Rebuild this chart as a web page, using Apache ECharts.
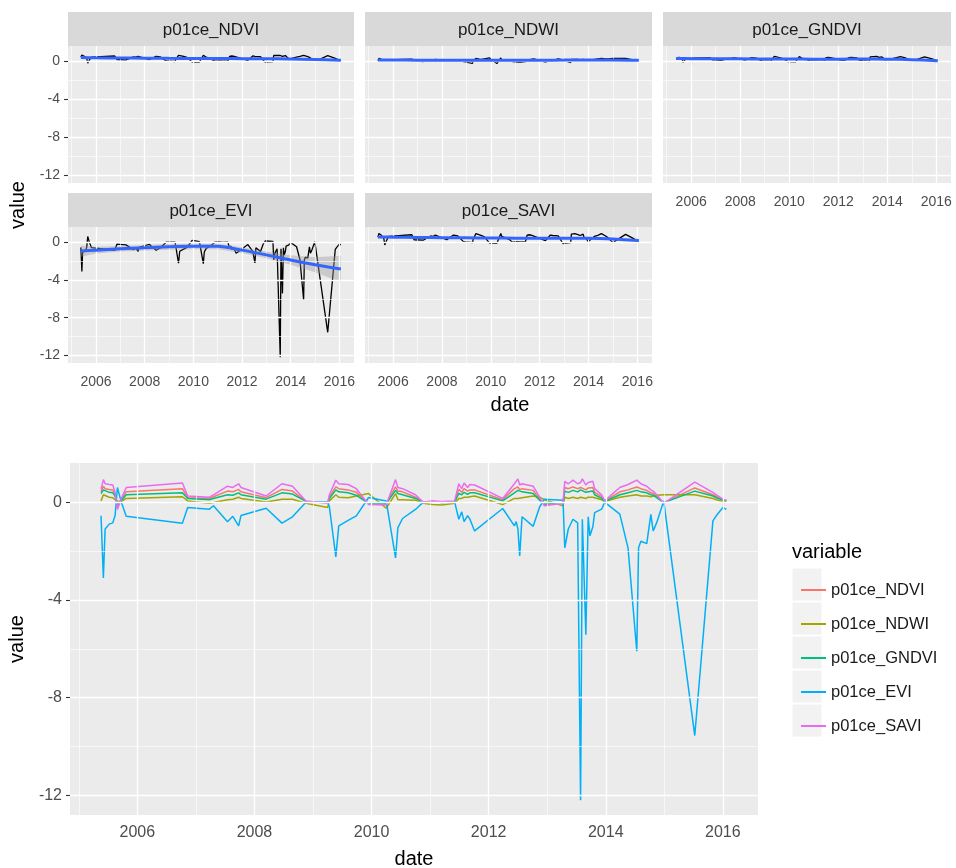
<!DOCTYPE html>
<html><head><meta charset="utf-8">
<script src="https://cdn.jsdelivr.net/npm/echarts@6/dist/echarts.min.js"></script>
<style>html,body{margin:0;padding:0;background:#fff}#c{width:956px;height:868px}</style>
</head><body><div id="c"></div>
<script>
// ---- data (decimal years) ----
const dates = [2005.38,2005.42,2005.45,2005.52,2005.58,2005.62,2005.66,2005.72,2005.81,2006.77,
2006.86,2007.23,2007.30,2007.54,2007.63,2007.73,2007.77,2008.20,2008.47,2008.65,
2008.88,2009.25,2009.28,2009.39,2009.44,2009.60,2009.74,2009.95,2010.25,2010.41,
2010.45,2010.53,2010.75,2010.88,2011.04,2011.20,2011.42,2011.49,2011.54,2011.58,
2011.64,2011.68,2011.76,2012.24,2012.44,2012.47,2012.50,2012.53,2012.57,2012.76,
2012.87,2012.95,2013.27,2013.30,2013.36,2013.44,2013.52,2013.57,2013.60,2013.66,
2013.70,2013.73,2013.78,2013.81,2013.93,2013.98,2014.24,2014.38,2014.53,2014.56,
2014.60,2014.70,2014.77,2014.81,2014.87,2014.99,2015.52,2015.55,2015.83,2015.89,
2016.00,2016.06];
const evi = [-0.56,-3.10,-1.10,-0.90,-0.85,-0.55,0.60,0.05,-0.58,-0.86,
-0.22,-0.29,-0.15,-0.80,-0.58,-0.97,-0.55,-0.25,-0.86,-0.60,
-0.01,0.00,-0.20,-2.24,-0.97,-0.75,-0.56,0.19,0.05,-2.28,
-1.04,-0.67,-0.30,-0.01,0.02,-0.02,0.00,-0.70,-0.40,-0.80,
-0.55,-0.70,-1.18,-0.26,-0.97,-0.80,-1.10,-2.20,-0.60,-0.99,
-0.20,0.12,0.08,-1.87,-1.10,-0.70,-0.85,-12.20,-0.70,-5.43,
-0.60,-1.38,-1.00,-0.43,-0.29,0.00,-0.49,-1.87,-6.10,-1.87,
-1.60,-1.70,-0.50,-1.18,-0.84,0.05,-9.55,-9.50,-0.77,-0.55,
-0.22,-0.30];
const savi = [0.53,0.92,0.75,0.72,0.70,0.40,-0.30,0.10,0.60,0.78,
0.25,0.20,0.30,0.65,0.60,0.75,0.60,0.25,0.75,0.65,
0.05,-0.05,0.30,0.90,0.75,0.72,0.55,-0.10,-0.12,0.92,
0.60,0.55,0.30,0.00,0.05,0.02,0.05,0.75,0.55,0.78,
0.60,0.72,0.70,0.15,0.75,0.80,0.95,0.70,0.75,0.65,
0.20,-0.15,-0.05,0.85,0.75,0.90,0.75,0.80,0.95,0.70,
0.80,0.72,0.85,0.55,0.30,0.05,0.60,0.72,0.90,0.85,
0.75,0.65,0.50,0.45,0.30,-0.05,0.82,0.80,0.40,0.30,
0.12,0.08];
const ndvi = [0.42,0.65,0.55,0.52,0.50,0.30,-0.20,0.08,0.42,0.55,
0.18,0.15,0.22,0.45,0.42,0.52,0.42,0.18,0.52,0.45,
0.03,-0.03,0.20,0.62,0.55,0.50,0.40,-0.08,-0.08,0.62,
0.45,0.42,0.20,0.00,0.03,0.00,0.03,0.52,0.40,0.55,
0.45,0.50,0.50,0.10,0.55,0.60,0.62,0.50,0.55,0.48,
0.12,-0.10,-0.03,0.60,0.55,0.62,0.55,0.60,0.65,0.50,
0.58,0.52,0.60,0.40,0.22,0.03,0.42,0.50,0.62,0.60,
0.55,0.48,0.38,0.35,0.22,-0.03,0.58,0.56,0.30,0.22,
0.10,0.06];
const gndvi = [0.35,0.50,0.45,0.40,0.38,0.25,-0.10,0.05,0.30,0.38,
0.15,0.10,0.15,0.30,0.28,0.38,0.30,0.12,0.38,0.33,
0.03,-0.02,0.15,0.50,0.42,0.38,0.28,-0.05,-0.06,0.48,
0.35,0.30,0.15,0.00,0.02,-0.02,0.02,0.35,0.30,0.40,
0.32,0.38,0.38,0.05,0.38,0.45,0.48,0.40,0.42,0.35,
0.08,-0.08,-0.03,0.45,0.40,0.48,0.42,0.50,0.50,0.40,
0.42,0.38,0.45,0.30,0.15,0.02,0.30,0.38,0.48,0.45,
0.42,0.38,0.30,0.28,0.18,-0.02,0.45,0.44,0.25,0.18,
0.08,0.05];
const ndwi = [0.05,0.30,0.25,0.20,0.18,0.10,0.05,0.02,0.15,0.22,
0.05,-0.05,-0.02,0.10,0.12,0.20,0.15,0.00,0.12,0.12,
-0.05,-0.22,0.05,0.30,0.20,0.18,0.25,0.35,-0.25,0.35,
0.10,0.10,0.08,-0.05,-0.10,-0.12,-0.05,0.15,0.15,0.20,
0.20,0.22,0.25,-0.10,0.15,0.20,0.15,0.10,0.18,0.25,
0.20,0.10,-0.15,0.20,0.15,0.20,0.15,0.20,0.25,0.15,
0.20,0.15,0.20,0.15,0.10,0.02,0.20,0.25,0.30,0.25,
0.25,0.25,0.22,0.25,0.28,0.30,0.30,0.28,0.15,0.10,
0.03,0.02];

// loess smooth fits with confidence band (read from facets)
const smoothX = [2005.38,2006,2007,2008,2009,2010,2011,2012,2013,2014,2015,2016.06];
const ndviFit = [0.38,0.36,0.34,0.32,0.30,0.29,0.28,0.27,0.26,0.24,0.18,0.10];
const ndviLo  = [0.28,0.30,0.29,0.27,0.25,0.24,0.23,0.22,0.21,0.18,0.11,0.00];
const ndviHi  = [0.48,0.42,0.39,0.37,0.35,0.34,0.33,0.32,0.31,0.30,0.25,0.20];
const ndwiFit = [0.12,0.12,0.11,0.10,0.10,0.10,0.10,0.11,0.12,0.14,0.14,0.10];
const ndwiLo  = [0.05,0.08,0.07,0.06,0.06,0.06,0.06,0.07,0.08,0.10,0.09,0.03];
const ndwiHi  = [0.19,0.16,0.15,0.14,0.14,0.14,0.14,0.15,0.16,0.18,0.19,0.17];
const gndviFit = [0.28,0.27,0.26,0.25,0.24,0.23,0.22,0.22,0.23,0.22,0.16,0.06];
const gndviLo  = [0.20,0.22,0.22,0.21,0.20,0.19,0.18,0.18,0.19,0.17,0.10,-0.03];
const gndviHi  = [0.36,0.32,0.30,0.29,0.28,0.27,0.26,0.26,0.27,0.27,0.22,0.15];
const eviFit = [-0.95,-0.85,-0.70,-0.60,-0.50,-0.45,-0.45,-0.85,-1.35,-1.90,-2.40,-2.85];
const eviLo  = [-1.55,-1.20,-1.00,-0.90,-0.80,-0.75,-0.75,-1.15,-1.70,-2.40,-3.20,-4.25];
const eviHi  = [-0.35,-0.50,-0.40,-0.30,-0.20,-0.15,-0.15,-0.55,-1.00,-1.40,-1.60,-1.45];
const saviFit = [0.55,0.52,0.50,0.47,0.45,0.43,0.42,0.42,0.42,0.40,0.32,0.18];
const saviLo  = [0.42,0.45,0.44,0.41,0.39,0.37,0.36,0.36,0.36,0.33,0.23,0.04];
const saviHi  = [0.68,0.59,0.56,0.53,0.51,0.49,0.48,0.48,0.48,0.47,0.41,0.32];

const names = ['p01ce_NDVI','p01ce_NDWI','p01ce_GNDVI','p01ce_EVI','p01ce_SAVI'];
const colors = ['#F8766D','#A3A500','#00BF7D','#00B0F6','#E76BF3'];
const xMajor = [2006,2008,2010,2012,2014,2016];
const xMinor = [2005,2007,2009,2011,2013,2015];
const yMajor = [-12,-8,-4,0];
const yMinor = [-10,-6,-2];
const xMin = 2004.85, xMax = 2016.6, yMin = -12.8, yMax = 1.6;

// ---- layout ----
const FONT = 'Liberation Sans, Arial, Helvetica, sans-serif';
const grids = [
  {left:68, top:46, width:286, height:137},
  {left:365, top:46, width:287, height:137},
  {left:663, top:46, width:288, height:137},
  {left:68, top:227, width:286, height:136},
  {left:365, top:227, width:287, height:136},
  {left:70, top:463, width:688, height:352}
];
const showX = [false,false,true,true,true,true];
const showY = [true,false,false,true,false,true];
const big = [false,false,false,false,false,true];

const facetVals = [ndvi, ndwi, gndvi, evi, savi];
const facetFit = [ndviFit, ndwiFit, gndviFit, eviFit, saviFit];
const facetLo = [ndviLo, ndwiLo, gndviLo, eviLo, saviLo];
const facetHi = [ndviHi, ndwiHi, gndviHi, eviHi, saviHi];

const pair = (xs, ys) => xs.map((x, i) => [x, ys[i]]);

const xAxes = grids.map((g, i) => ({
  gridIndex: i, type: 'value', min: xMin, max: xMax,
  splitLine: {show: false}, axisLine: {show: false},
  axisTick: {show: showX[i], customValues: xMajor, length: 4, lineStyle: {color: '#333', width: 1.1}},
  axisLabel: {show: showX[i], customValues: xMajor, color: '#4D4D4D', fontFamily: FONT,
    fontSize: big[i] ? 16 : 14, margin: big[i] ? 10 : 12, formatter: v => String(Math.round(v))},
  name: big[i] ? 'date' : '', nameLocation: 'middle', nameGap: 34,
  nameTextStyle: {fontSize: 20, color: '#000', fontFamily: FONT}
}));
const yAxes = grids.map((g, i) => ({
  gridIndex: i, type: 'value', min: yMin, max: yMax,
  splitLine: {show: false}, axisLine: {show: false},
  axisTick: {show: showY[i], customValues: yMajor, length: 4, lineStyle: {color: '#333', width: 1.1}},
  axisLabel: {show: showY[i], customValues: yMajor, color: '#4D4D4D', fontFamily: FONT,
    fontSize: big[i] ? 16 : 14, margin: 8, formatter: v => String(Math.round(v))},
  name: big[i] ? 'value' : '', nameLocation: 'middle', nameGap: 42,
  nameTextStyle: {fontSize: 20, color: '#000', fontFamily: FONT}
}));

const series = [];
// grid lines
grids.forEach((g, i) => {
  series.push({
    type: 'line', xAxisIndex: i, yAxisIndex: i, data: [], z: 1, silent: true,
    markLine: {
      silent: true, symbol: ['none','none'], animation: false, label: {show: false},
      emphasis: {disabled: true},
      lineStyle: {color: '#FFFFFF', type: 'solid', width: 1.3},
      data: [].concat(
        xMinor.map(v => ({xAxis: v, lineStyle: {width: 0.6}})),
        yMinor.map(v => ({yAxis: v, lineStyle: {width: 0.6}})),
        xMajor.map(v => ({xAxis: v, lineStyle: {width: 1.3}})),
        yMajor.map(v => ({yAxis: v, lineStyle: {width: 1.3}}))
      )
    }
  });
});
// confidence band polygon through the axes' scales
function bandRender(lo, hi) {
  return function (params, api) {
    if (params.dataIndex !== 0) return null;
    const top = smoothX.map((x, k) => api.coord([x, hi[k]]));
    const bot = smoothX.map((x, k) => api.coord([x, lo[k]])).reverse();
    return {type: 'polygon', shape: {points: top.concat(bot)},
      style: {fill: 'rgba(153,153,153,0.4)'}};
  };
}
// facets
facetVals.forEach((vals, i) => {
  series.push({type: 'line', name: 'facet_' + names[i], xAxisIndex: i, yAxisIndex: i,
    data: pair(dates, vals), symbol: 'none', z: 3,
    lineStyle: {color: '#000', width: 1.3}});
  series.push({type: 'custom', name: 'band_' + i, xAxisIndex: i, yAxisIndex: i,
    data: pair(smoothX, facetFit[i]), encode: {x: 0, y: 1}, z: 4, silent: true,
    renderItem: bandRender(facetLo[i], facetHi[i])});
  series.push({type: 'line', name: 'fit_' + i, xAxisIndex: i, yAxisIndex: i,
    data: pair(smoothX, facetFit[i]), symbol: 'none', z: 5, smooth: 0.3,
    lineStyle: {color: '#3366FF', width: 3}});
});
// combined plot
[ndvi, ndwi, gndvi, evi, savi].forEach((vals, i) => {
  series.push({type: 'line', name: names[i], xAxisIndex: 5, yAxisIndex: 5,
    data: pair(dates, vals), symbol: 'none', z: 3, color: colors[i],
    lineStyle: {color: colors[i], width: 1.5}});
});

const graphic = [];
const strips = [[0,'p01ce_NDVI',12],[1,'p01ce_NDWI',12],[2,'p01ce_GNDVI',12],[3,'p01ce_EVI',193],[4,'p01ce_SAVI',193]];
strips.forEach(([gi, label, top]) => {
  const g = grids[gi];
  graphic.push({type: 'rect', shape: {x: g.left, y: top, width: g.width, height: g.top - top}, style: {fill: '#D9D9D9'}, silent: true});
  graphic.push({type: 'text', x: g.left + g.width / 2, y: top + (g.top - top) / 2 + 1,
    style: {text: label, fontSize: 17, fill: '#1A1A1A', fontFamily: FONT, align: 'center', verticalAlign: 'middle'}, silent: true});
});
graphic.push({type: 'text', x: 18, y: 205, rotation: Math.PI / 2,
  style: {text: 'value', fontSize: 20, fill: '#000', fontFamily: FONT, align: 'center', verticalAlign: 'middle'}, silent: true});
graphic.push({type: 'text', x: 510, y: 405,
  style: {text: 'date', fontSize: 20, fill: '#000', fontFamily: FONT, align: 'center', verticalAlign: 'middle'}, silent: true});
// legend title and key backgrounds
graphic.push({type: 'text', x: 792, y: 552,
  style: {text: 'variable', fontSize: 20, fill: '#000', fontFamily: FONT, align: 'left', verticalAlign: 'middle'}, silent: true});
names.forEach((n, i) => {
  graphic.push({type: 'rect', z: 0, shape: {x: 792, y: 568 + 34 * i, width: 30, height: 33},
    style: {fill: '#F2F2F2', stroke: '#FFFFFF', lineWidth: 1}, silent: true});
});

const option = {
  animation: false,
  backgroundColor: '#FFFFFF',
  textStyle: {fontFamily: FONT},
  grid: grids.map(g => Object.assign({show: true, backgroundColor: '#EBEBEB', borderWidth: 0,
    containLabel: false, outerBoundsMode: 'none'}, g)),
  xAxis: xAxes,
  yAxis: yAxes,
  legend: {
    data: names, orient: 'vertical', left: 796, top: 575, itemWidth: 25, itemHeight: 2,
    icon: 'rect', itemGap: 14, selectedMode: false,
    textStyle: {fontSize: 16.5, color: '#1A1A1A', lineHeight: 20, fontFamily: FONT}
  },
  graphic: graphic,
  series: series
};
const chart = echarts.init(document.getElementById('c'), null, {renderer: 'canvas'});
chart.setOption(option);
</script>
</body></html>
